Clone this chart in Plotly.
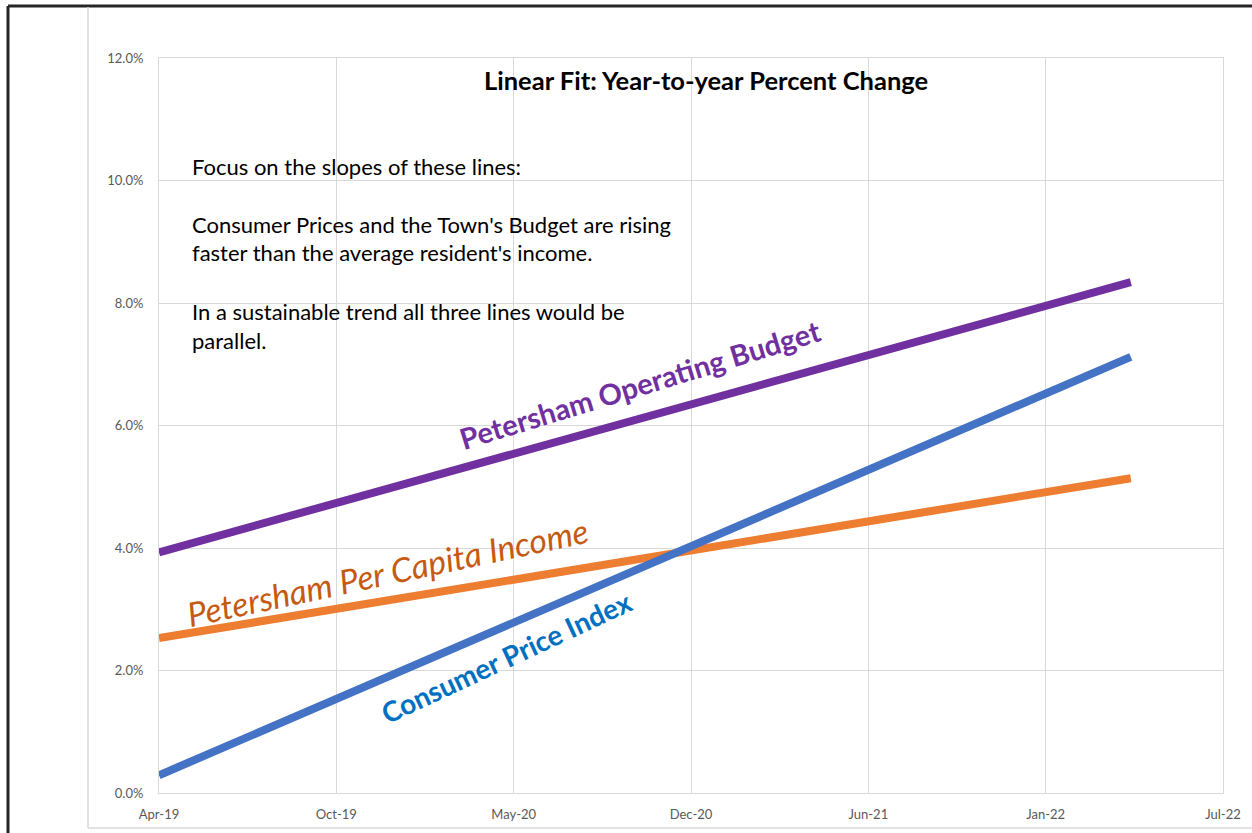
import plotly.graph_objects as go

# ---- data ----
fit_dates = ["2019-04-11", "2022-04-11"]
operating_budget = [0.0393, 0.0834]   # Petersham Operating Budget
per_capita_income = [0.0253, 0.0514]  # Petersham Per Capita Income
cpi = [0.0029, 0.0712]                # Consumer Price Index

x_tick_vals = ["2019-04-11", "2019-10-28", "2020-05-15", "2020-12-01",
               "2021-06-19", "2022-01-05", "2022-07-24"]
x_tick_text = ["Apr-19", "Oct-19", "May-20", "Dec-20", "Jun-21", "Jan-22", "Jul-22"]
y_tick_vals = [0.0, 0.02, 0.04, 0.06, 0.08, 0.10, 0.12]

W, H = 1252, 833
L, R, T, B = 159, 1223, 58, 793


def px(xp):
    return (xp - L) / (R - L)


def py(yp):
    return (B - yp) / (B - T)


fig = go.Figure()
fig.add_trace(go.Scatter(x=fit_dates, y=operating_budget, mode="lines",
                         line=dict(color="#7030A0", width=8), name="Petersham Operating Budget"))
fig.add_trace(go.Scatter(x=fit_dates, y=per_capita_income, mode="lines",
                         line=dict(color="#ED7D31", width=8), name="Petersham Per Capita Income"))
fig.add_trace(go.Scatter(x=fit_dates, y=cpi, mode="lines",
                         line=dict(color="#4472C4", width=8), name="Consumer Price Index"))

font_main = "Lato, 'Open Sans', sans-serif"
tick_font = dict(family=font_main, size=13, color="#595959")

fig.update_layout(
    width=W, height=H,
    margin=dict(l=L, r=W - R, t=T, b=H - B),
    paper_bgcolor="white", plot_bgcolor="white",
    showlegend=False,
    font=dict(family=font_main),
    xaxis=dict(type="date", range=["2019-04-11", "2022-07-24"],
               tickvals=x_tick_vals, ticktext=x_tick_text,
               showgrid=True, gridcolor="#d9d9d9", gridwidth=1,
               showline=True, linecolor="#d9d9d9", linewidth=1, mirror=True,
               ticks="outside", ticklen=9, tickcolor="rgba(0,0,0,0)",
               tickfont=tick_font, zeroline=False),
    yaxis=dict(range=[0, 0.12], tickvals=y_tick_vals, tickformat=".1%",
               showgrid=True, gridcolor="#d9d9d9", gridwidth=1,
               showline=True, linecolor="#d9d9d9", linewidth=1, mirror=True,
               ticks="outside", ticklen=12, tickcolor="rgba(0,0,0,0)",
               tickfont=tick_font, zeroline=False),
)

# frame lines (outer black page border, gray chart border)
fig.add_shape(type="line", xref="paper", yref="paper", x0=px(8), x1=px(1252), y0=py(6), y1=py(6),
              line=dict(color="#262626", width=3))
fig.add_shape(type="line", xref="paper", yref="paper", x0=px(8), x1=px(8), y0=py(6), y1=py(833),
              line=dict(color="#262626", width=3))
fig.add_shape(type="line", xref="paper", yref="paper", x0=px(88), x1=px(88), y0=py(7), y1=py(828),
              line=dict(color="#d9d9d9", width=1.5))
fig.add_shape(type="line", xref="paper", yref="paper", x0=px(88), x1=px(1252), y0=py(828), y1=py(828),
              line=dict(color="#d9d9d9", width=1.5))

# title
fig.add_annotation(xref="paper", yref="paper", x=px(706), y=py(80), showarrow=False,
                   text="<b>Linear Fit: Year-to-year Percent Change</b>",
                   font=dict(family=font_main, size=25.5, color="black"),
                   xanchor="center", yanchor="middle")

# body text
body_lines = [
    ("Focus on the slopes of these lines:", 166),
    ("Consumer Prices and the Town's Budget are rising", 224),
    ("faster than the average resident's income.", 253),
    ("In a sustainable trend all three lines would be", 311),
    ("parallel.", 340),
]
for txt, yy in body_lines:
    fig.add_annotation(xref="paper", yref="paper", x=px(190), y=py(yy), showarrow=False,
                       text=txt, font=dict(family=font_main, size=22, color="black"),
                       xanchor="left", yanchor="middle")

# line labels
fig.add_annotation(xref="paper", yref="paper", x=px(639), y=py(384), showarrow=False,
                   text="<b>Petersham Operating Budget</b>", textangle=-17,
                   font=dict(family=font_main, size=29, color="#7030A0"),
                   xanchor="center", yanchor="middle")
fig.add_annotation(xref="paper", yref="paper", x=px(387), y=py(572), showarrow=False,
                   text="<i>Petersham Per Capita Income</i>", textangle=-12,
                   font=dict(family=font_main, size=33.5, color="#C55A11"),
                   xanchor="center", yanchor="middle")
fig.add_annotation(xref="paper", yref="paper", x=px(506), y=py(657), showarrow=False,
                   text="<b>Consumer Price Index</b>", textangle=-25,
                   font=dict(family=font_main, size=28, color="#0070C0"),
                   xanchor="center", yanchor="middle")

fig.write_html("out.html", config={"displayModeBar": False},
               post_script="document.body.style.margin='0';document.body.style.overflow='hidden';")
